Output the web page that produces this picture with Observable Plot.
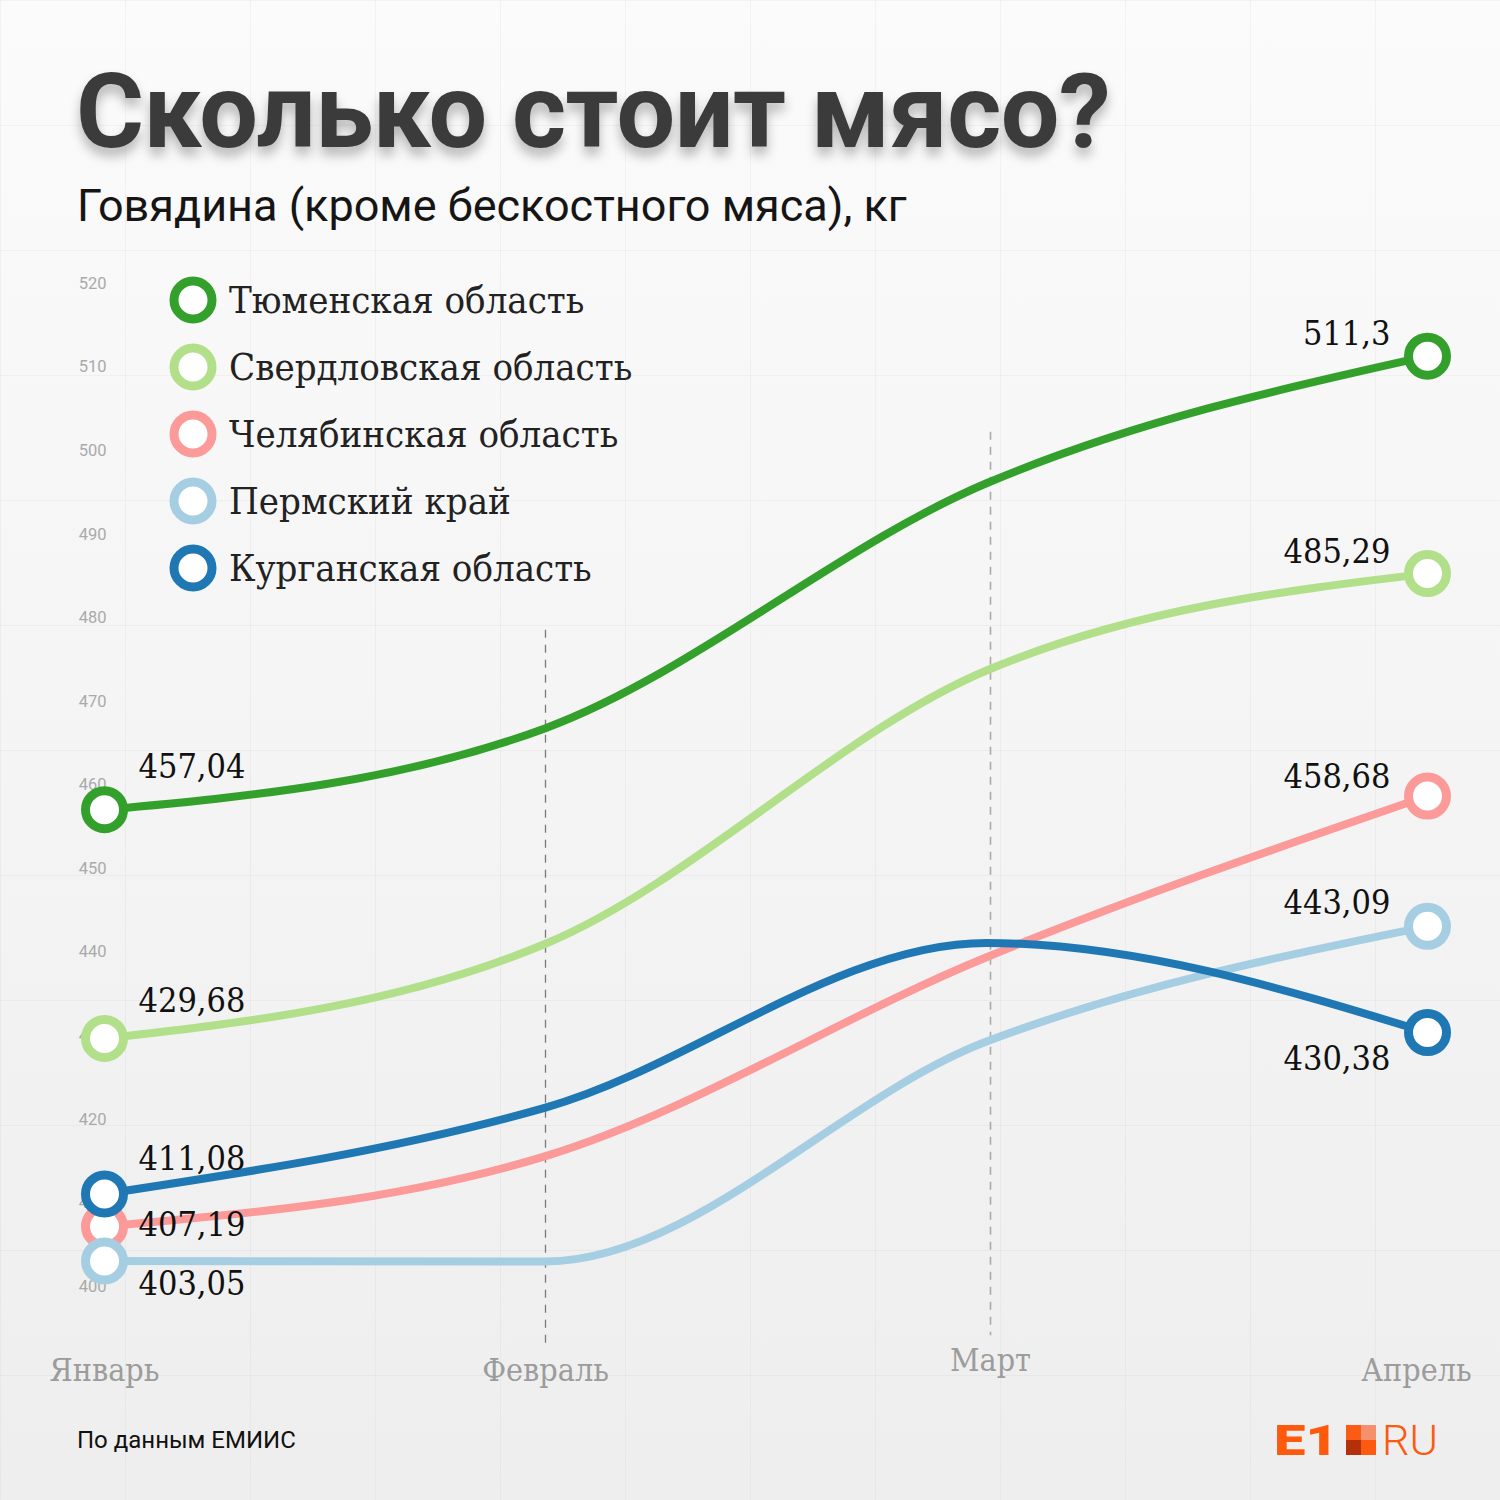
<!DOCTYPE html>
<html>
<head>
<meta charset="utf-8">
<script src="https://cdn.jsdelivr.net/npm/d3@7"></script>
<script src="https://cdn.jsdelivr.net/npm/@observablehq/plot@0.6"></script>
<style>
  html, body { margin: 0; padding: 0; }
  body { width: 1500px; height: 1500px; overflow: hidden; }
  #page {
    position: relative; width: 1500px; height: 1500px; overflow: hidden;
    background-color: #f3f3f3;
    background-image:
      linear-gradient(rgba(0,0,0,0.03) 1px, transparent 1px),
      linear-gradient(90deg, rgba(0,0,0,0.03) 1px, transparent 1px),
      linear-gradient(180deg, #fbfbfb 0%, #f3f3f3 60%, #eeeeee 100%);
    background-size: 125px 125px, 125px 125px, 100% 100%;
    background-position: 0 0, 0 0, 0 0;
    font-family: Roboto, sans-serif;
  }
  #chart { position: absolute; left: 0; top: 0; }
  #chart svg text.serif, .serif { font-stretch: condensed; }
  #title {
    position: absolute; left: 76px; top: 60px; margin: 0;
    font: 700 104px/104px Roboto, sans-serif; color: #3b3b3b;
    text-shadow: 0 8px 12px rgba(0,0,0,0.28);
    letter-spacing: -0.5px; white-space: nowrap;
  }
  #subtitle {
    position: absolute; left: 77px; top: 184px; margin: 0;
    font: 400 45px/44px Roboto, sans-serif; color: #151515; white-space: nowrap;
  }
  #legend { position: absolute; left: 169px; top: 266px; }
  .lg { display: flex; align-items: center; height: 67px; }
  .lg svg { width: 48px; height: 48px; margin-right: 12px; }
  .lg span {
    font-family: "DejaVu Serif Condensed", "DejaVu Serif", serif; font-stretch: condensed;
    font-size: 38px; color: #222; white-space: nowrap;
  }
  #source {
    position: absolute; left: 77px; top: 1428px;
    font: 400 24px/24px Roboto, sans-serif; color: #111;
  }
  #logo { position: absolute; left: 1256px; top: 1400px; overflow: visible; }
</style>
</head>
<body>
<div id="page">
  <div id="chart"></div>
  <h1 id="title">Сколько стоит мясо?</h1>
  <p id="subtitle">Говядина (кроме бескостного мяса), кг</p>
  <div id="legend"></div>
  <div id="source">По данным ЕМИИС</div>
  <svg id="logo" width="220" height="80" viewBox="0 0 220 80">
    <text x="18" y="55" textLength="64" lengthAdjust="spacingAndGlyphs" font-family="Roboto" font-weight="900" font-size="42" fill="#fd5a0e">E1</text>
    <rect x="90" y="25" width="15" height="15" fill="#fb5b14"/>
    <rect x="105" y="25" width="15" height="15" fill="#f4906b"/>
    <rect x="90" y="40" width="15" height="15" fill="#b3300a"/>
    <rect x="105" y="40" width="15" height="15" fill="#fb5a10"/>
    <text x="126" y="55" textLength="56" lengthAdjust="spacingAndGlyphs" font-family="Roboto" font-weight="300" font-size="42" fill="#fd5a0e">RU</text>
  </svg>
</div>
<script>
// ---- data ----
const months = ["Январь", "Февраль", "Март", "Апрель"];
const regions = ["Тюменская область", "Свердловская область", "Челябинская область", "Пермский край", "Курганская область"];
const tyumen      = [457.04, 466.8, 496.1, 511.3];
const sverdlovsk  = [429.68, 441.0, 473.7, 485.29];
const chelyabinsk = [407.19, 415.6, 439.4, 458.68];
const perm        = [403.05, 403.0, 429.3, 443.09];
const kurgan      = [411.08, 421.4, 441.1, 430.38];
const yTicks = [400, 410, 420, 430, 440, 450, 460, 470, 480, 490, 500, 510, 520];

const seriesValues = [tyumen, sverdlovsk, chelyabinsk, perm, kurgan];
const rows = regions.flatMap((region, i) =>
  seriesValues[i].map((value, j) => ({region, month: months[j], value})));

const palette = ["#33a02c", "#b2df8a", "#fb9a99", "#a6cee3", "#1f78b4"];
const fmt = v => String(v).replace(".", ",");
const serif = "'DejaVu Serif Condensed', 'DejaVu Serif', serif";

// label placement (pixels) per region index: [dx, dy, anchor]
const janPlace = [[34, -43, "start"], [34, -37, "start"], [34, -1, "start"], [34, 23, "start"], [34, -35, "start"]];
const aprPlace = [[-37, -22, "end"], [-37, -22, "end"], [-37, -19, "end"], [-37, -23, "end"], [-37, 27, "end"]];

const labelMarks = [];
regions.forEach((r, i) => {
  [[months[0], janPlace[i]], [months[3], aprPlace[i]]].forEach(([m, p]) => {
    labelMarks.push(Plot.text(rows.filter(d => d.region === r && d.month === m), {
      x: "month", y: "value", text: d => fmt(d.value),
      dx: p[0], dy: p[1], textAnchor: p[2], lineAnchor: "middle",
      fontSize: 34, fontFamily: serif, fill: "#111", className: "serif"
    }));
  });
});

const monthStyle = {fontSize: 32, fontFamily: serif, fill: "#9c9c9c", className: "serif", frameAnchor: "bottom"};

const chart = Plot.plot({
  width: 1500, height: 1500,
  marginTop: 283, marginBottom: 214, marginLeft: 103, marginRight: 72,
  style: {background: "transparent", fontFamily: "Roboto, sans-serif", overflow: "visible"},
  x: {type: "point", domain: months, padding: 0, axis: null},
  y: {domain: [400, 520], axis: null},
  color: {domain: regions, range: palette},
  marks: [
    Plot.axisY({ticks: yTicks, tickSize: 0, tickPadding: -3, fontSize: 16.5, fill: "#aaaaaa", label: null, tickFormat: d => String(d)}),
    Plot.ruleX([months[1]], {y1: 478.5, y2: 392.9, stroke: "#7a7a7a", strokeWidth: 1.3, strokeDasharray: "8,7"}),
    Plot.ruleX([months[2]], {y1: 502.2, y2: 394.1, dx: 4, stroke: "#aaaaaa", strokeWidth: 1.6, strokeDasharray: "8,7"}),
    Plot.text([months[0], months[1]], {x: d => d, dy: 94, ...monthStyle}),
    Plot.text([months[2]], {x: d => d, dy: 84, dx: 4, ...monthStyle}),
    Plot.text([months[3]], {x: d => d, dy: 94, dx: -11, ...monthStyle}),
    Plot.line(rows, {x: "month", y: "value", z: "region", stroke: "region", strokeWidth: 8, curve: "monotone-x"}),
    Plot.dot(rows.filter(d => d.month === months[0] || d.month === months[3]), {x: "month", y: "value", r: 19, stroke: "region", strokeWidth: 9, fill: "white"}),
    ...labelMarks
  ]
});
document.getElementById("chart").appendChild(chart);

// legend
const legend = document.getElementById("legend");
regions.forEach((r, i) => {
  const row = document.createElement("div");
  row.className = "lg";
  row.innerHTML = `<svg viewBox="0 0 48 48"><circle cx="24" cy="24" r="19" fill="white" stroke="${palette[i]}" stroke-width="9"/></svg><span>${r}</span>`;
  legend.appendChild(row);
});
</script>
</body>
</html>
